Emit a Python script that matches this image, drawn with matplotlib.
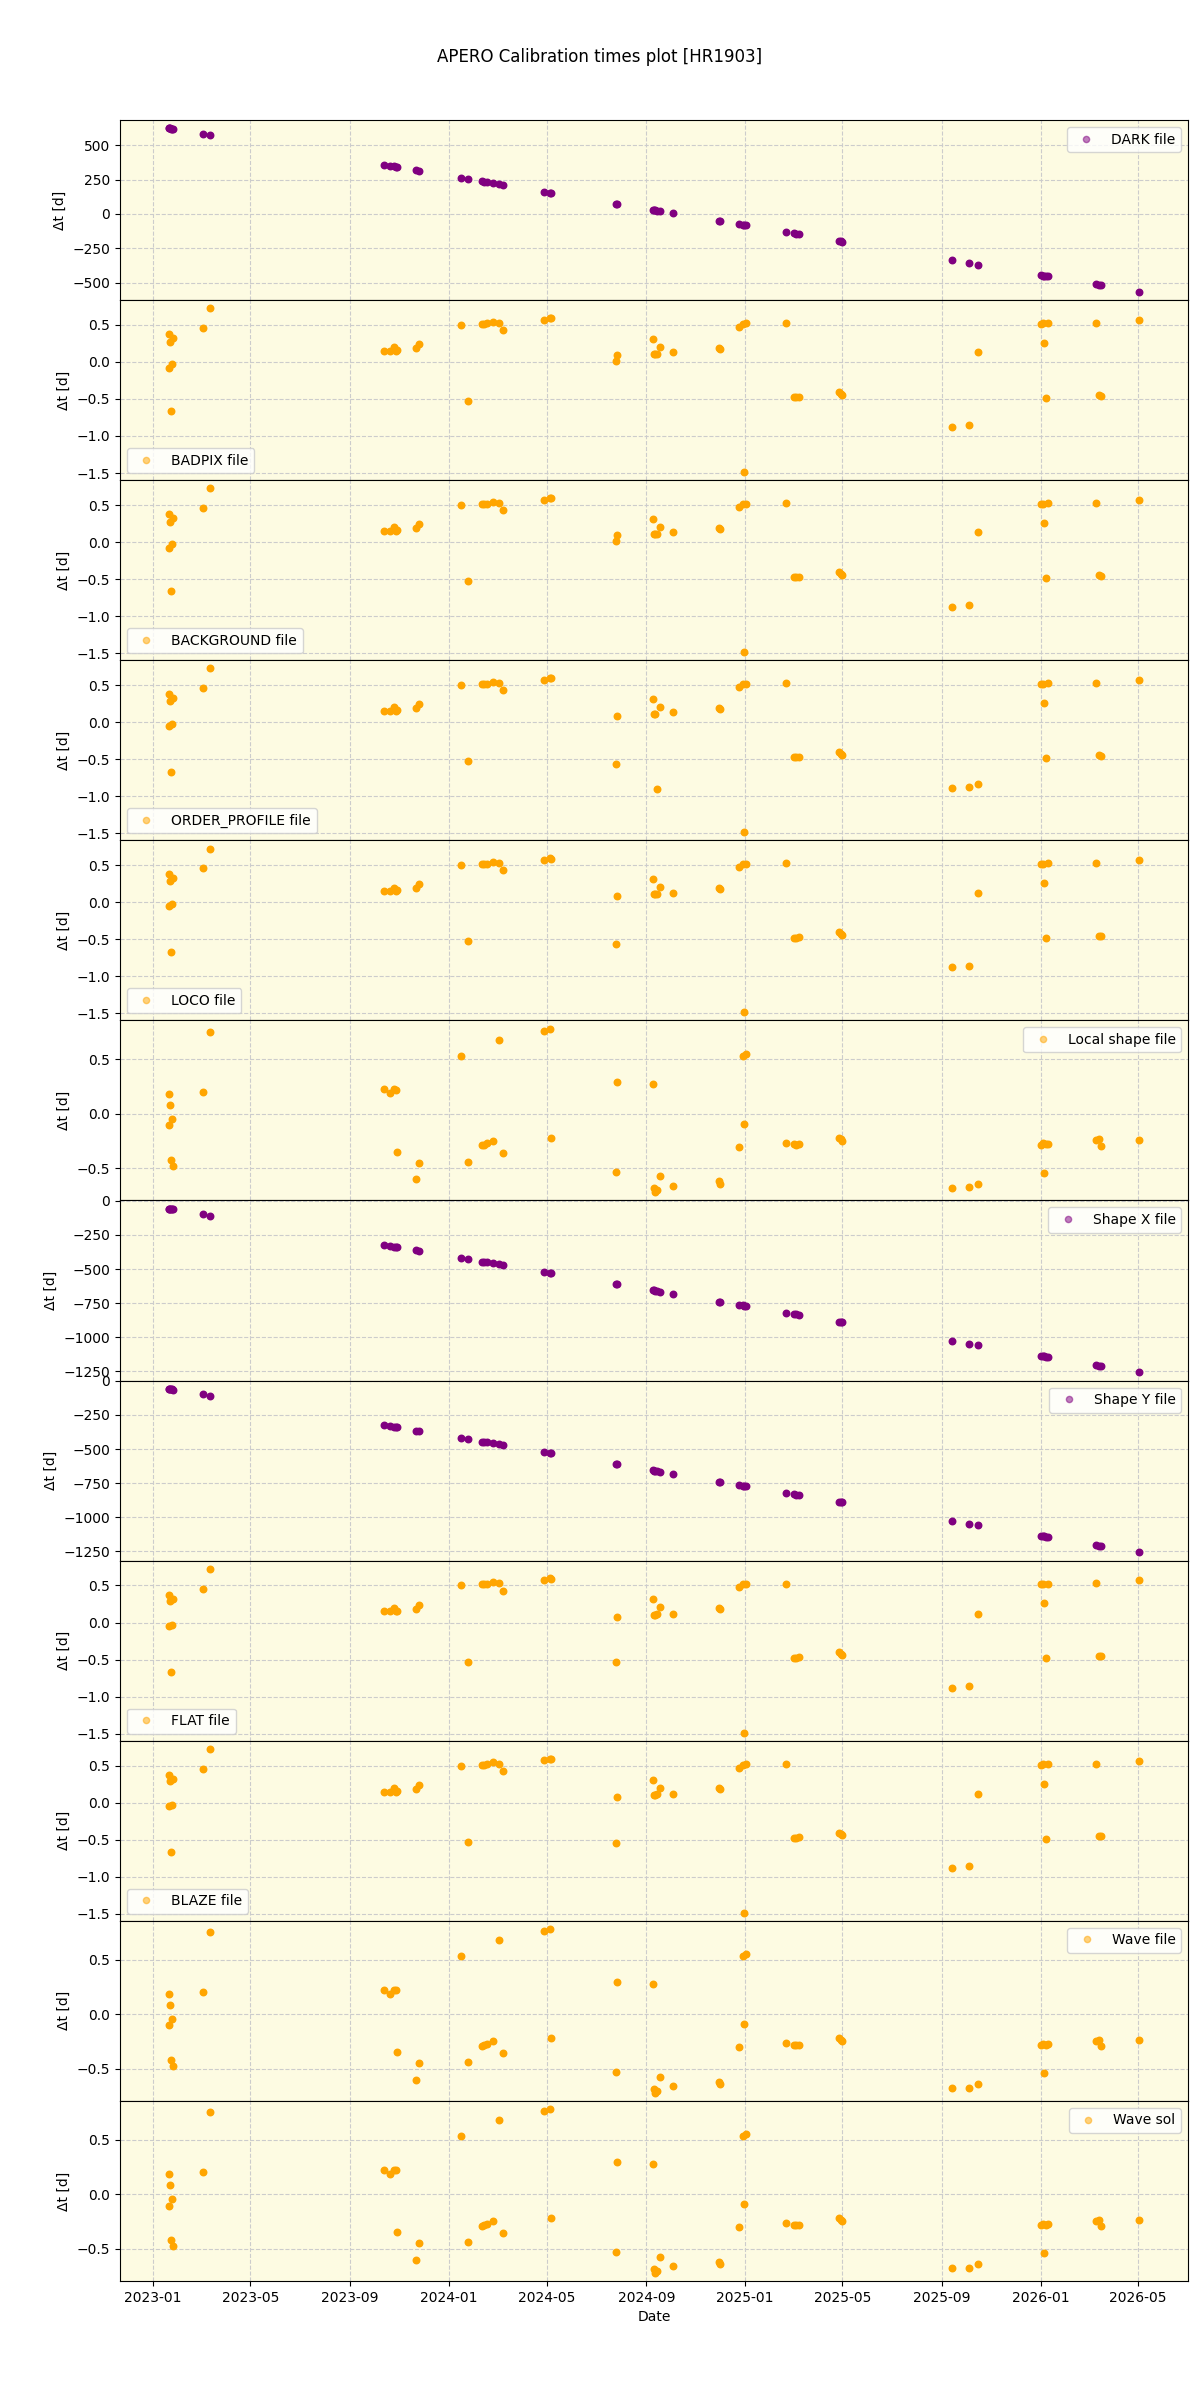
import matplotlib
matplotlib.use("Agg")
import matplotlib.pyplot as plt
import matplotlib.dates as mdates
from matplotlib.lines import Line2D
import pandas as pd

obs_dates = [
    "2023-01-20", "2023-01-21", "2023-01-22", "2023-01-23", "2023-01-24", "2023-01-26",
    "2023-03-03", "2023-03-12",
    "2023-10-13", "2023-10-21", "2023-10-25", "2023-10-28", "2023-10-29",
    "2023-11-22", "2023-11-25",
    "2024-01-16", "2024-01-25", "2024-02-11", "2024-02-14", "2024-02-17",
    "2024-02-25", "2024-03-03", "2024-03-08",
    "2024-04-28", "2024-05-05", "2024-05-06",
    "2024-07-26", "2024-07-27",
    "2024-09-09", "2024-09-10", "2024-09-12", "2024-09-14", "2024-09-18", "2024-10-04",
    "2024-11-30", "2024-12-01", "2024-12-24", "2024-12-29", "2024-12-31", "2025-01-02",
    "2025-02-21", "2025-03-02", "2025-03-05", "2025-03-09",
    "2025-04-27", "2025-04-29", "2025-05-01",
    "2025-09-13", "2025-10-04", "2025-10-15",
    "2026-01-01", "2026-01-04", "2026-01-05", "2026-01-07", "2026-01-10",
    "2026-03-10", "2026-03-14", "2026-03-17",
    "2026-05-03",
]

dark = [625, 624, 623, 622, 621, 619, 584, 575, 358, 350, 346, 343, 342, 319, 316,
        263, 254, 237, 234, 231, 223, 216, 211, 162, 155, 154, 74, 73,
        30, 29, 27, 25, 21, 5, -50, -51, -74, -79, -81, -83,
        -133, -142, -145, -149, -198, -200, -202, -337, -358, -369,
        -446, -449, -450, -452, -455, -514, -518, -521, -568]

badpix = [-0.081, 0.378, 0.275, -0.662, -0.027, 0.324, 0.459, 0.725,
          0.149, 0.149, 0.198, 0.149, 0.16, 0.185, 0.243,
          0.50, -0.527, 0.514, 0.514, 0.52, 0.545, 0.527, 0.432,
          0.572, 0.595, 0.59, 0.014, 0.095,
          0.311, 0.108, 0.108, 0.11, 0.203, 0.135,
          0.194, 0.18, 0.473, 0.514, -1.486, 0.52,
          0.523, -0.477, -0.477, -0.47, -0.405, -0.43, -0.441,
          -0.878, -0.851, 0.135,
          0.514, 0.52, 0.257, -0.486, 0.525, 0.527, -0.45, -0.455, 0.568]

background = [-0.081, 0.378, 0.275, -0.662, -0.027, 0.324, 0.459, 0.725,
              0.149, 0.149, 0.198, 0.149, 0.16, 0.185, 0.243,
              0.50, -0.527, 0.514, 0.514, 0.52, 0.545, 0.527, 0.432,
              0.572, 0.595, 0.59, 0.014, 0.095,
              0.311, 0.108, 0.108, 0.11, 0.203, 0.135,
              0.194, 0.18, 0.473, 0.514, -1.486, 0.52,
              0.523, -0.477, -0.477, -0.47, -0.405, -0.43, -0.441,
              -0.878, -0.851, 0.135,
              0.514, 0.52, 0.257, -0.486, 0.525, 0.527, -0.45, -0.455, 0.568]

order_profile = [-0.05, 0.378, 0.29, -0.67, -0.03, 0.324, 0.459, 0.725,
                 0.149, 0.149, 0.198, 0.149, 0.16, 0.185, 0.243,
                 0.50, -0.53, 0.514, 0.514, 0.52, 0.545, 0.527, 0.432,
                 0.572, 0.595, 0.59, -0.56, 0.08,
                 0.311, 0.108, 0.108, -0.90, 0.203, 0.135,
                 0.194, 0.18, 0.473, 0.514, -1.486, 0.52,
                 0.523, -0.477, -0.477, -0.47, -0.405, -0.43, -0.441,
                 -0.89, -0.87, -0.84,
                 0.514, 0.52, 0.257, -0.486, 0.525, 0.527, -0.45, -0.455, 0.568]

loco = [-0.05, 0.378, 0.29, -0.67, -0.03, 0.324, 0.459, 0.725,
        0.149, 0.149, 0.198, 0.149, 0.16, 0.185, 0.243,
        0.50, -0.53, 0.514, 0.514, 0.52, 0.545, 0.527, 0.432,
        0.572, 0.595, 0.59, -0.56, 0.08,
        0.311, 0.108, 0.108, 0.11, 0.203, 0.12,
        0.194, 0.18, 0.473, 0.514, -1.486, 0.52,
        0.523, -0.477, -0.477, -0.47, -0.405, -0.43, -0.441,
        -0.878, -0.86, 0.12,
        0.514, 0.52, 0.257, -0.486, 0.525, 0.527, -0.45, -0.455, 0.568]

local_shape = [-0.104, 0.183, 0.08, -0.422, -0.046, -0.477, 0.202, 0.752,
               0.223, 0.187, 0.225, 0.22, -0.349, -0.602, -0.45,
               0.532, -0.44, -0.29, -0.285, -0.27, -0.248, 0.679, -0.358,
               0.758, 0.78, -0.22, -0.532, 0.294,
               0.275, -0.682, -0.72, -0.70, -0.575, -0.66,
               -0.618, -0.642, -0.303, 0.53, -0.092, 0.55,
               -0.266, -0.28, -0.285, -0.28, -0.22, -0.235, -0.25,
               -0.679, -0.673, -0.642,
               -0.285, -0.27, -0.54, -0.28, -0.275, -0.245, -0.235, -0.294, -0.239]

shape_x = [-58, -59, -60, -61, -62, -64, -100, -109,
           -324, -332, -336, -339, -340, -364, -367,
           -419, -428, -445, -448, -451, -459, -466, -471,
           -522, -529, -530, -611, -612,
           -656, -657, -659, -661, -665, -681,
           -738, -739, -762, -767, -769, -771,
           -821, -830, -833, -837, -886, -888, -890,
           -1025, -1046, -1057,
           -1135, -1138, -1139, -1141, -1144, -1203, -1207, -1210, -1257]

shape_y = [-58, -59, -60, -61, -62, -64, -100, -109,
           -324, -332, -336, -339, -340, -364, -367,
           -419, -428, -445, -448, -451, -459, -466, -471,
           -522, -529, -530, -611, -612,
           -656, -657, -659, -661, -665, -681,
           -738, -739, -762, -767, -769, -771,
           -821, -830, -833, -837, -886, -888, -890,
           -1025, -1046, -1057,
           -1135, -1138, -1139, -1141, -1144, -1203, -1207, -1210, -1257]

flat = [-0.05, 0.378, 0.29, -0.67, -0.03, 0.324, 0.459, 0.725,
        0.149, 0.149, 0.198, 0.149, 0.16, 0.185, 0.243,
        0.50, -0.53, 0.514, 0.514, 0.52, 0.545, 0.527, 0.432,
        0.572, 0.595, 0.59, -0.54, 0.08,
        0.311, 0.108, 0.108, 0.11, 0.203, 0.12,
        0.194, 0.18, 0.473, 0.514, -1.486, 0.52,
        0.523, -0.477, -0.477, -0.47, -0.405, -0.43, -0.441,
        -0.878, -0.86, 0.12,
        0.514, 0.52, 0.257, -0.486, 0.525, 0.527, -0.45, -0.455, 0.568]

blaze = list(flat)
wave_file = list(local_shape)
wave_sol = list(local_shape)

panels = [
    ("DARK file", dark, "purple", "upper right"),
    ("BADPIX file", badpix, "orange", "lower left"),
    ("BACKGROUND file", background, "orange", "lower left"),
    ("ORDER_PROFILE file", order_profile, "orange", "lower left"),
    ("LOCO file", loco, "orange", "lower left"),
    ("Local shape file", local_shape, "orange", "upper right"),
    ("Shape X file", shape_x, "purple", "upper right"),
    ("Shape Y file", shape_y, "purple", "upper right"),
    ("FLAT file", flat, "orange", "lower left"),
    ("BLAZE file", blaze, "orange", "lower left"),
    ("Wave file", wave_file, "orange", "upper right"),
    ("Wave sol", wave_sol, "orange", "upper right"),
]

dates = pd.to_datetime(obs_dates)

fig, axes = plt.subplots(len(panels), 1, figsize=(12, 24), dpi=100, sharex=True)
fig.subplots_adjust(left=0.1, right=0.99, top=0.95, bottom=0.0496, hspace=0)
fig.suptitle("APERO Calibration times plot [HR1903]", fontsize=12)

for ax, (label, vals, color, loc) in zip(axes, panels):
    ax.set_facecolor("#fdfbe2")
    ax.scatter(dates, vals, s=22, color=color, zorder=3)
    ax.grid(True, linestyle="--", color="#cccccc", linewidth=0.8, zorder=0)
    ax.set_axisbelow(True)
    ax.set_ylabel("Δt [d]")
    handle = Line2D([], [], linestyle="none", marker="o", markersize=4.5,
                    color=color, alpha=0.5)
    ax.legend([handle], [label], loc=loc)

axes[-1].xaxis.set_major_locator(mdates.MonthLocator(bymonth=[1, 5, 9]))
axes[-1].xaxis.set_major_formatter(mdates.DateFormatter("%Y-%m"))
axes[-1].set_xlabel("Date")

fig.savefig("out.png", dpi=100)
